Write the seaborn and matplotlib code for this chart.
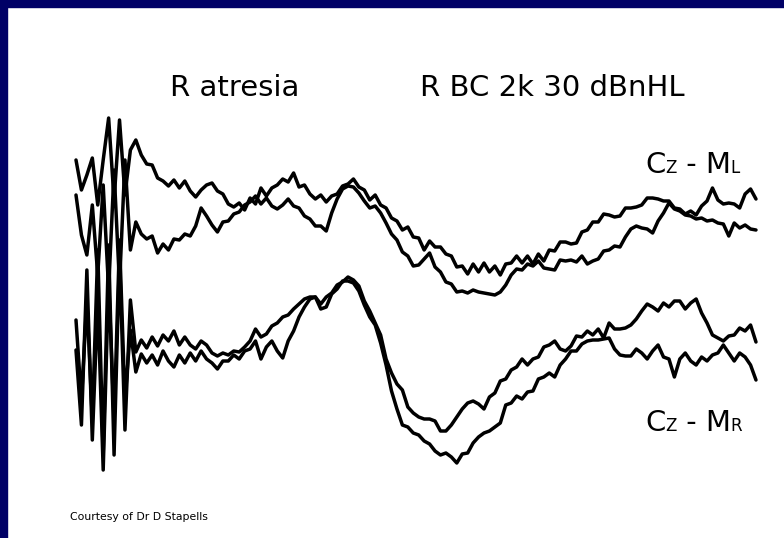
import numpy as np
import pandas as pd
import matplotlib
matplotlib.use("Agg")
import matplotlib.pyplot as plt
from matplotlib.patches import Rectangle
import seaborn as sns

# Averaged tone-burst ABR recordings, two replications per channel (µV)
sample_step_ms = 0.2

cz_ml_run1 = [
    3.0, 1.5, 2.25, 3.1, 0.75, 3.0, 5.1, 1.0, 5.0, 1.25, 3.5, 4.0,
    3.25, 2.8, 2.75, 2.1, 1.95, 1.7, 2.0, 1.6, 1.95, 1.45,
    1.15, 1.5, 1.75, 1.85, 1.45, 1.3, 0.8, 0.65, 0.85, 0.5,
    1.1, 0.8, 1.6, 1.2, 1.6, 1.75, 2.05, 1.9, 2.35, 1.65,
    1.75, 1.3, 1.05, 1.25, 0.9, 1.2, 1.3, 1.7, 1.8, 2.05,
    1.65, 1.5, 1.0, 1.25, 0.75, 0.6, 0.1, -0.05, -0.5, -0.35,
    -0.85, -0.9, -1.5, -1.05, -1.35, -1.35, -1.7, -1.8, -2.35, -2.3,
    -2.7, -2.2, -2.6, -2.15, -2.6, -2.3, -2.75, -2.2, -2.15, -1.8,
    -2.15, -1.8, -2.2, -1.7, -2.05, -1.5, -1.55, -1.1, -1.1, -1.2,
    -1.15, -0.6, -0.5, -0.1, -0.1, 0.3, 0.25, 0.15, 0.2, 0.6,
    0.6, 0.65, 0.75, 1.1, 1.1, 1.05, 0.95, 0.95, 0.6, 0.55,
    0.3, 0.45, 0.25, 0.7, 0.95, 1.6, 1.0, 0.8, 0.85, 0.8,
    0.6, 1.3, 1.55, 1.05,
]
cz_ml_run2 = [
    1.25, -0.75, -1.75, 0.75, -2.75, 1.75, -3.5, 2.5, -3.25, 3.0, -1.5, -0.1,
    -0.7, -0.95, -0.8, -1.65, -1.2, -1.5, -0.95, -1.0, -0.7, -0.8,
    -0.3, 0.6, 0.2, -0.25, -0.6, -0.1, -0.05, 0.3, 0.4, 0.75,
    0.9, 1.2, 0.8, 1.1, 0.7, 0.55, 0.75, 1.05, 0.7, 0.6,
    0.2, 0.05, -0.3, -0.3, -0.55, 0.35, 1.05, 1.55, 1.7, 1.65,
    1.35, 0.95, 0.6, 0.7, 0.35, -0.15, -0.7, -1.0, -1.6, -1.8,
    -2.3, -2.25, -1.95, -1.65, -2.35, -2.6, -3.1, -3.2, -3.6, -3.55,
    -3.65, -3.5, -3.6, -3.65, -3.7, -3.75, -3.6, -3.25, -2.75, -2.45,
    -2.5, -2.2, -2.3, -2.05, -2.4, -2.45, -2.5, -2.0, -2.05, -2.0,
    -2.1, -1.8, -2.2, -2.05, -1.95, -1.55, -1.5, -1.3, -1.35, -0.85,
    -0.45, -0.3, -0.4, -0.45, -0.65, -0.05, 0.35, 0.85, 0.55, 0.45,
    0.25, 0.2, 0.05, 0.1, -0.05, 0.0, -0.15, -0.2, -0.8, -0.15,
    -0.4, -0.25, -0.45, -0.5,
]
cz_mr_run1 = [
    2.0, -2.0, 3.0, -3.0, 5.5, -4.75, 5.75, -4.75, 5.25, -3.5, 3.0, 0.4,
    1.0, 0.6, 1.15, 0.7, 1.25, 0.95, 1.45, 0.75, 1.15, 0.75,
    0.55, 0.95, 0.75, 0.35, 0.2, 0.35, 0.25, 0.45, 0.4, 0.65,
    0.95, 1.55, 1.15, 1.3, 1.7, 1.85, 2.15, 2.25, 2.55, 2.8,
    3.05, 3.15, 3.15, 2.8, 3.15, 3.35, 3.75, 3.9, 4.15, 4.0,
    3.7, 2.95, 2.45, 1.85, 1.25, 0.05, -0.65, -1.2, -1.5, -2.35,
    -2.65, -2.85, -2.95, -2.95, -3.05, -3.55, -3.55, -3.25, -2.85, -2.45,
    -2.15, -2.05, -2.2, -2.45, -1.85, -1.65, -1.05, -0.95, -0.5, -0.35,
    0.05, -0.25, 0.05, 0.15, 0.65, 0.75, 0.95, 0.55, 0.45, 0.7,
    1.2, 1.15, 1.45, 1.25, 1.55, 1.1, 1.85, 1.55, 1.55, 1.6,
    1.75, 2.05, 2.45, 2.8, 2.65, 2.45, 2.85, 2.65, 2.95, 2.95,
    2.55, 2.85, 3.05, 2.35, 1.85, 1.25, 1.1, 0.95, 1.2, 1.25,
    1.6, 1.45, 1.75, 0.9,
]
cz_mr_run2 = [
    0.5, -3.25, 4.5, -4.0, 3.0, -5.5, 4.0, -3.0, 6.0, -2.0, 1.5, -0.6,
    0.3, -0.15, 0.25, -0.25, 0.45, -0.05, -0.35, 0.25, -0.15, 0.35,
    -0.05, 0.45, 0.05, -0.15, -0.45, -0.05, -0.05, 0.25, 0.05, 0.45,
    0.55, 0.95, 0.05, 0.65, 0.95, 0.45, 0.1, 0.95, 1.45, 2.15,
    2.65, 3.05, 3.15, 2.55, 2.65, 3.3, 3.55, 3.95, 3.95, 3.85,
    3.45, 2.75, 2.15, 1.75, 0.85, -0.25, -1.55, -2.45, -3.25, -3.35,
    -3.65, -3.75, -4.05, -4.2, -4.55, -4.75, -4.65, -4.85, -5.15, -4.7,
    -4.65, -4.15, -3.85, -3.65, -3.55, -3.35, -3.15, -2.25, -2.15, -1.8,
    -1.95, -1.6, -1.55, -0.95, -0.85, -0.65, -0.85, -0.25, 0.05, 0.45,
    0.45, 0.8, 0.95, 1.0, 1.0, 1.05, 1.1, 0.55, 0.25, 0.2,
    0.2, 0.55, 0.35, 0.05, 0.45, 0.75, 0.15, 0.05, -0.85, 0.05,
    0.35, -0.05, -0.25, 0.15, -0.05, 0.25, 0.35, 0.75, 0.35, -0.05,
    0.35, 0.15, -0.25, -1.0,
]

title_left = "R atresia"
title_right = "R BC 2k 30 dBnHL"
label_ml = [("C", "big"), ("Z", "small"), (" - M", "big"), ("L", "small")]
label_mr = [("C", "big"), ("Z", "small"), (" - M", "big"), ("R", "small")]
credit = "Courtesy of Dr D Stapells"

# vertical spacing of the two channels on the page
channel_offset = {"Cz-ML": 2.5, "Cz-MR": -4.5}

W, H, DPI = 784, 538, 100
NAVY = "#000066"

sns.set_theme(style="white")
plt.rcParams["font.family"] = ["DejaVu Sans"]
plt.rcParams["text.color"] = "black"

recordings = {
    ("Cz-ML", "run 1"): cz_ml_run1,
    ("Cz-ML", "run 2"): cz_ml_run2,
    ("Cz-MR", "run 1"): cz_mr_run1,
    ("Cz-MR", "run 2"): cz_mr_run2,
}
frames = []
for (channel, run), values in recordings.items():
    amp = np.asarray(values, dtype=float)
    frames.append(pd.DataFrame({
        "latency_ms": np.arange(len(amp)) * sample_step_ms,
        "amplitude_uv": amp,
        "plotted": amp + channel_offset[channel],
        "trace": f"{channel} {run}",
    }))
df = pd.concat(frames, ignore_index=True)

fig = plt.figure(figsize=(W / DPI, H / DPI), dpi=DPI)
fig.patch.set_facecolor("white")
ax = fig.add_axes([0, 0, 1, 1])
ax.set_facecolor("white")

sns.lineplot(
    data=df, x="latency_ms", y="plotted", hue="trace",
    palette=["black"] * 4, estimator=None, sort=False, legend=False,
    linewidth=2.5, ax=ax,
)
for line in ax.get_lines():
    line.set_solid_joinstyle("round")
    line.set_solid_capstyle("round")

ax.set_xlim(-2.794, 26.03)
ax.set_ylim(-13.4, 13.5)
ax.axis("off")

# slide frame
fig.patches.append(Rectangle((0, 1 - 7 / H), 1, 7 / H, transform=fig.transFigure,
                             color=NAVY, zorder=10))
fig.patches.append(Rectangle((0, 0), 7 / W, 1, transform=fig.transFigure,
                             color=NAVY, zorder=10))

fig.text(170 / W, 1 - 88 / H, title_left, fontsize=21, ha="left", va="center",
         color="black")
fig.text(420 / W, 1 - 88 / H, title_right, fontsize=21, ha="left", va="center",
         color="black")
fig.text(70 / W, 1 - 517 / H, credit, fontsize=7.8, ha="left", va="center",
         color="black")

sizes = {"big": 21, "small": 12}
renderer = fig.canvas.get_renderer()


def draw_label(x_px, baseline_px, runs):
    x = x_px
    for text, kind in runs:
        t = fig.text(x / W, 1 - baseline_px / H, text, fontsize=sizes[kind],
                     ha="left", va="baseline", color="black")
        x += t.get_window_extent(renderer=renderer).width


draw_label(645, 173, label_ml)
draw_label(645, 431, label_mr)

fig.savefig("out.png", dpi=DPI, facecolor="white")
